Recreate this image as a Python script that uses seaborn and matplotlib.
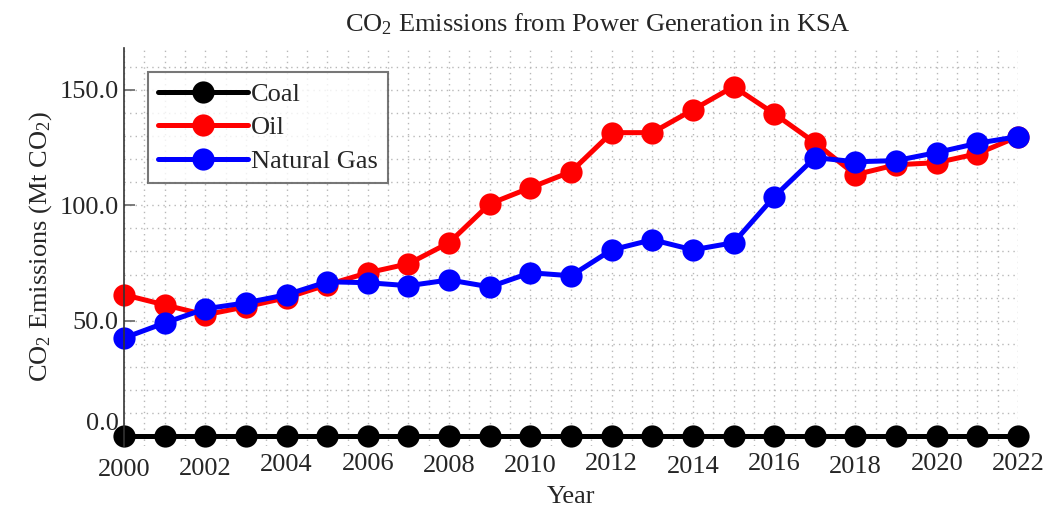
import pandas as pd
import matplotlib.pyplot as plt
import matplotlib.ticker as mticker
from matplotlib.transforms import ScaledTranslation
import seaborn as sns

# Data
years = list(range(2000, 2023))
coal = [0.0] * 23
oil = [61.3, 56.9, 52.6, 56.1, 60.0, 65.6, 70.8, 74.7, 83.8, 100.6, 107.6, 114.5,
       131.4, 131.4, 141.3, 151.3, 139.6, 127.1, 113.2, 117.5, 118.4, 122.3, 129.7]
gas = [42.6, 49.1, 55.2, 57.8, 61.3, 66.9, 66.5, 65.2, 67.7, 64.7, 70.8, 69.5,
       80.7, 85.1, 80.7, 83.8, 103.7, 120.6, 118.8, 119.3, 122.8, 126.8, 129.7]
fuels = ["Coal", "Oil", "Natural Gas"]
colors = ["#000000", "#ff0000", "#0000ff"]
x_ticks = list(range(2000, 2023, 2))
y_ticks = [0, 50, 100, 150]
# small vertical jitter of the year labels in the original (pixels down)
x_label_shift = [6, 5, 1, 0, 2, 2, 0, 3, 0, 3, 0, 0]

df = pd.DataFrame({
    "Year": years * 3,
    "Emissions": coal + oil + gas,
    "Fuel": ["Coal"] * 23 + ["Oil"] * 23 + ["Natural Gas"] * 23,
})

sns.set_style("white")
plt.rcParams["font.family"] = ["Liberation Serif", "DejaVu Serif"]
plt.rcParams["mathtext.fontset"] = "custom"
plt.rcParams["mathtext.rm"] = "Liberation Serif"
plt.rcParams["mathtext.default"] = "regular"

fig = plt.figure(figsize=(10.45, 5.08), dpi=100)
ax = fig.add_axes([0.1187, 0.1226, 0.8555, 0.7829])

sns.lineplot(data=df, x="Year", y="Emissions", hue="Fuel", hue_order=fuels,
             palette=colors, marker="o", markersize=16, markeredgewidth=0,
             linewidth=3.6, ax=ax, clip_on=False, legend=True)

ax.set_xlim(2000, 2022)
ax.set_ylim(-4, 168)

ax.xaxis.set_major_locator(mticker.FixedLocator(x_ticks))
ax.xaxis.set_minor_locator(mticker.MultipleLocator(0.5))
ax.yaxis.set_major_locator(mticker.FixedLocator(y_ticks))
ax.yaxis.set_minor_locator(mticker.MultipleLocator(10))
ax.yaxis.set_major_formatter(mticker.FormatStrFormatter("%.1f"))

ax.grid(True, which="both", linestyle=(0, (1, 3)), color="#b8b8b8", linewidth=1.0)
ax.set_axisbelow(True)

for side in ["top", "right", "bottom"]:
    ax.spines[side].set_visible(False)
ax.spines["left"].set_color("#333333")
ax.spines["left"].set_linewidth(1.2)

ax.tick_params(axis="y", which="major", direction="in", length=8, width=1.2,
               color="#666666", labelsize=19, pad=4, left=True)
ax.tick_params(axis="y", which="minor", left=False)
ax.tick_params(axis="x", which="both", bottom=False, labelsize=19, pad=2)

ax.set_xticks(x_ticks)
ax.set_xticklabels([str(y) for y in x_ticks])
for lab, dy in zip(ax.get_xticklabels(), x_label_shift):
    lab.set_transform(lab.get_transform() + ScaledTranslation(0, -dy / 100, fig.dpi_scale_trans))

# the 0.0 label sits a bit above its tick in the original
ylabs = ax.get_yticklabels()
ylabs[0].set_transform(ylabs[0].get_transform() + ScaledTranslation(0, 0.15, fig.dpi_scale_trans))

ax.set_title("CO$_2$ Emissions from Power Generation in KSA", fontsize=19, x=0.53, pad=12)
ax.set_xlabel("Year", fontsize=19, labelpad=3)
ax.set_ylabel("CO$_2$ Emissions (Mt CO$_2$)", fontsize=19, labelpad=4)

handles, labels = ax.get_legend_handles_labels()
leg = ax.legend(handles, labels, loc="upper left", fontsize=19, frameon=True,
                fancybox=False, edgecolor="#555555", handlelength=3.4,
                handletextpad=0.1, labelspacing=0.38, borderpad=0.4,
                borderaxespad=0.9)
leg.get_frame().set_linewidth(1.5)

plt.savefig("out.png", dpi=100)
